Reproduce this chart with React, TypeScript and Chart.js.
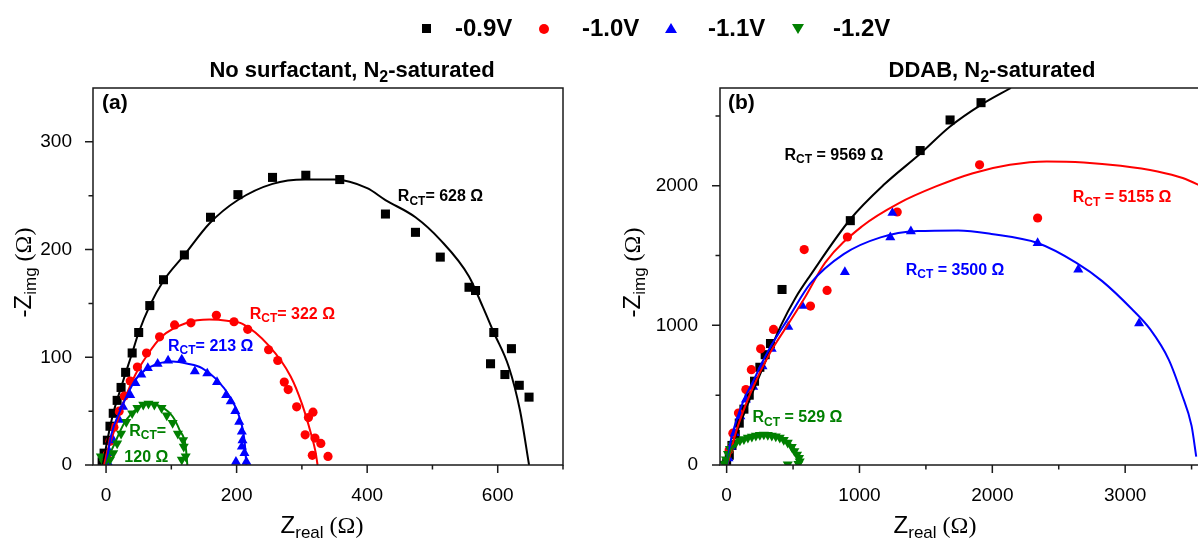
import { useEffect, useRef } from 'react';
import { Chart, registerables } from 'chart.js';

Chart.register(...registerables);

const FONT = "'Liberation Sans', Arial, Helvetica, sans-serif";
const SERIF = "'Liberation Serif', 'Times New Roman', serif";
const AXIS_COLOR = '#1a1a1a';

// ---------- series meta ----------
const seriesLabels = ['-0.9V', '-1.0V', '-1.1V', '-1.2V'];
const seriesColors = ['#000000', '#ff0000', '#0000ff', '#008000'];

// ---------- panel (a): No surfactant ----------
const aXTicks = [0, 200, 400, 600];
const aXMinor = [100, 300, 500, 700];
const aYTicks = [0, 100, 200, 300];
const aYMinor = [50, 150, 250];

const aBlackX = [-6, -3, 2, 6, 11, 17, 23, 30, 40, 50, 67, 88, 120, 160, 202, 255, 306, 358, 428, 474, 512, 556, 566, 594, 589, 621, 611, 633, 648];
const aBlackY = [3, 11, 23, 36, 48, 60, 72, 86, 104, 123, 148, 172, 195, 230, 251, 267, 269, 265, 233, 216, 193, 165, 162, 123, 94, 108, 84, 74, 63];
const aRedX = [0, 2, 6, 12, 20, 28, 37, 48, 62, 82, 105, 130, 169, 196, 217, 249, 263, 273, 279, 292, 310, 317, 305, 320, 329, 316, 340];
const aRedY = [3, 10, 22, 35, 50, 64, 78, 91, 104, 119, 130, 132, 139, 133, 126, 107, 97, 77, 70, 54, 44, 49, 28, 25, 20, 9, 8];
const aBlueX = [3, 6, 11, 20, 26, 37, 45, 54, 64, 79, 95, 116, 136, 155, 170, 184, 191, 198, 204, 208, 209, 208, 212, 199, 215];
const aBlueY = [2, 11, 23, 42, 54, 65, 76, 84, 90, 94, 97, 98, 87, 85, 77, 65, 59, 50, 40, 31, 23, 17, 11, 3, 3];
const aGreenX = [-8, -3, 6, 11, 17, 23, 31, 40, 48, 57, 65, 74, 85, 93, 102, 110, 118, 119, 122, 116];
const aGreenY = [8, 2, 5, 11, 20, 29, 40, 48, 53, 56, 57, 56, 53, 46, 39, 29, 23, 17, 8, 5];

const aBlackFitX = [-5, 2, 11, 23, 40, 50, 67, 88, 120, 158, 202, 255, 305, 350, 400, 428, 474, 512, 556, 577, 594, 617, 634, 648];
const aBlackFitY = [0, 23, 48, 72, 104, 123, 148, 171, 195, 224, 246, 261, 265, 265, 257, 246, 230, 209, 175, 147, 123, 91, 51, 0];
const aRedFitX = [-3, 3, 11, 28, 45, 62, 85, 124, 158, 185, 209, 249, 283, 300, 314, 321, 324];
const aRedFitY = [0, 15, 29, 60, 84, 101, 119, 132, 135, 134, 131, 111, 82, 57, 29, 12, 0];
const aBlueFitX = [0, 8, 22, 45, 68, 102, 125, 147, 170, 190, 204, 212, 215];
const aBlueFitY = [0, 28, 51, 79, 91, 96, 94, 90, 79, 63, 45, 23, 0];
const aGreenFitX = [0, 5, 11, 28, 51, 68, 85, 102, 113, 122, 124.5];
const aGreenFitY = [0, 9, 17, 39, 54, 57, 54, 45, 32, 17, 0];

// ---------- panel (b): DDAB ----------
const bXTicks = [0, 1000, 2000, 3000, 4000];
const bXMinor = [500, 1500, 2500, 3500];
const bYTicks = [0, 1000, 2000];
const bYMinor = [500, 1500, 2500];

const bBlackX = [0, 20, 40, 65, 95, 130, 170, 210, 250, 290, 330, 417, 931, 1457, 1682, 1915];
const bBlackY = [10, 70, 140, 220, 300, 400, 500, 600, 700, 790, 870, 1257, 1750, 2252, 2471, 2595];
const bRedX = [19, 47, 89, 145, 186, 256, 353, 584, 631, 756, 909, 1284, 1904, 2341];
const bRedY = [108, 228, 372, 540, 683, 832, 971, 1543, 1138, 1250, 1633, 1812, 2150, 1769];
const bBlueX = [14, 33, 61, 103, 145, 200, 270, 339, 464, 570, 890, 1232, 1248, 1387, 2341, 2647, 3105];
const bBlueY = [48, 132, 228, 348, 468, 559, 707, 832, 990, 1139, 1381, 1631, 1805, 1674, 1590, 1400, 1014];
const bGreenX = [-20, -5, 10, 25, 45, 70, 100, 130, 160, 190, 220, 250, 280, 310, 340, 370, 400, 430, 460, 490, 510, 530, 545, 550, 540, 460];
const bGreenY = [10, 40, 80, 115, 140, 160, 175, 185, 195, 203, 210, 215, 218, 215, 210, 205, 195, 180, 160, 130, 100, 75, 50, 25, 8, 5];

const bBlackFitX = [5, 50, 100, 200, 300, 409, 520, 631, 931, 1187, 1457, 1682, 1915, 2140];
const bBlackFitY = [0, 160, 290, 530, 760, 1000, 1200, 1360, 1760, 2010, 2229, 2424, 2579, 2700];
const bRedFitX = [5, 75, 186, 325, 464, 589, 742, 1020, 1298, 1576, 1854, 2132, 2410, 2688, 2966, 3244, 3433, 3600];
const bRedFitY = [0, 250, 530, 800, 1010, 1200, 1450, 1710, 1876, 1995, 2090, 2150, 2174, 2167, 2143, 2102, 2055, 1985];
const bBlueFitX = [5, 30, 61, 103, 145, 200, 270, 339, 464, 631, 881, 1159, 1437, 1743, 1993, 2341, 2633, 2827, 3050, 3189, 3328, 3425, 3500, 3535];
const bBlueFitY = [0, 170, 280, 400, 500, 600, 740, 860, 1050, 1300, 1510, 1630, 1675, 1680, 1655, 1590, 1448, 1317, 1117, 971, 755, 510, 280, 60];
const bGreenFitX = [0, 30, 80, 150, 220, 284, 350, 420, 480, 520, 545, 550];
const bGreenFitY = [0, 110, 160, 195, 212, 218, 212, 190, 150, 100, 40, 0];

// ---------- helpers ----------
type Seg = { t: string; sub?: boolean; serif?: boolean };
type Note = { segs: Seg[]; x: number; y: number; color: string };

const pts = (xs: number[], ys: number[]) => xs.map((x, i) => ({ x, y: ys[i] }));

function drawRich(ctx: CanvasRenderingContext2D, segs: Seg[], x: number, y: number, size: number, weight: string, color: string, align: 'left' | 'center') {
  ctx.save();
  ctx.fillStyle = color;
  ctx.textBaseline = 'alphabetic';
  ctx.textAlign = 'left';
  const fontFor = (s: Seg) => `${weight} ${s.sub ? Math.round(size * 0.72) : size}px ${s.serif ? SERIF : FONT}`;
  const widths = segs.map((s) => {
    ctx.font = fontFor(s);
    return ctx.measureText(s.t).width;
  });
  const total = widths.reduce((a, b) => a + b, 0);
  let cx = align === 'center' ? x - total / 2 : x;
  segs.forEach((s, i) => {
    ctx.font = fontFor(s);
    ctx.fillText(s.t, cx, s.sub ? y + size * 0.22 : y);
    cx += widths[i];
  });
  ctx.restore();
}

const rct = (rest: string): Seg[] => [{ t: 'R' }, { t: 'CT', sub: true }, { t: rest }];

type Deco = {
  xMajor: number[]; xMinor: number[]; yMajor: number[]; yMinor: number[];
  title: Seg[]; titleX: number; tag: string; tagX: number;
  xTitleX: number; yTitleX: number; notes: Note[];
};

function decoPlugin(d: Deco) {
  return {
    id: 'deco',
    afterDraw(chart: any) {
      const ctx: CanvasRenderingContext2D = chart.ctx;
      const a = chart.chartArea;
      const xs = chart.scales.x;
      const ys = chart.scales.y;
      ctx.save();
      ctx.strokeStyle = AXIS_COLOR;
      ctx.lineWidth = 1.5;
      ctx.strokeRect(a.left, a.top, a.right - a.left, a.bottom - a.top);
      ctx.beginPath();
      const tx = (vals: number[], len: number) => vals.forEach((v) => {
        const p = xs.getPixelForValue(v);
        ctx.moveTo(p, a.bottom); ctx.lineTo(p, a.bottom + len);
      });
      const ty = (vals: number[], len: number) => vals.forEach((v) => {
        const p = ys.getPixelForValue(v);
        ctx.moveTo(a.left, p); ctx.lineTo(a.left - len, p);
      });
      tx(d.xMajor, 8); tx(d.xMinor, 4.5); ty(d.yMajor, 8); ty(d.yMinor, 4.5);
      ctx.stroke();
      ctx.restore();

      d.notes.forEach((n) => {
        drawRich(ctx, n.segs, xs.getPixelForValue(n.x), ys.getPixelForValue(n.y) + 16 * 0.36, 16, 'bold', n.color, 'left');
      });
      drawRich(ctx, d.title, d.titleX, 77, 22, 'bold', '#000', 'center');
      drawRich(ctx, [{ t: d.tag }], d.tagX, 109, 21, 'bold', '#000', 'left');
      drawRich(ctx, [{ t: 'Z' }, { t: 'real', sub: true }, { t: ' (Ω)', serif: true }], d.xTitleX, 533, 24, 'normal', '#000', 'center');
      ctx.save();
      ctx.translate(d.yTitleX, (a.top + a.bottom) / 2 - 4);
      ctx.rotate(-Math.PI / 2);
      drawRich(ctx, [{ t: '-Z' }, { t: 'img', sub: true }, { t: ' (Ω)', serif: true }], 0, 0, 24, 'normal', '#000', 'center');
      ctx.restore();
    },
  };
}

function dataSets(sx: number[][], sy: number[][], fx: number[][], fy: number[][]) {
  const styles = ['rect', 'circle', 'triangle', 'triangle'];
  const radii = [6.4, 4.6, 5.8, 5.8];
  const rot = [0, 0, 0, 180];
  const fits = fx.map((xs, i) => ({
    data: pts(xs, fy[i]),
    showLine: true,
    borderColor: seriesColors[i],
    borderWidth: 2,
    pointRadius: 0,
    cubicInterpolationMode: 'monotone',
    fill: false,
  }));
  const marks = sx.map((xs, i) => ({
    data: pts(xs, sy[i]),
    showLine: false,
    pointStyle: styles[i],
    pointRadius: radii[i],
    rotation: rot[i],
    backgroundColor: seriesColors[i],
    borderColor: seriesColors[i],
    borderWidth: 0,
  }));
  return [...fits.reverse(), ...marks.reverse()];
}

function axis(min: number, max: number, ticks: number[], size: number, pad: number, isX: boolean) {
  return {
    type: 'linear',
    min,
    max,
    afterBuildTicks: (s: any) => { s.ticks = ticks.map((v) => ({ value: v })); },
    afterFit: (s: any) => { if (isX) s.height = size; else s.width = size; },
    ticks: {
      callback: (v: any) => String(v),
      font: { family: FONT, size: 19 },
      color: '#000',
      padding: pad,
      maxRotation: 0,
      autoSkip: false,
    },
    grid: { display: false },
    border: { display: false },
  };
}

function makeConfig(datasets: any[], xs: any, ys: any, padRight: number, deco: Deco): any {
  return {
    type: 'scatter',
    data: { datasets },
    options: {
      responsive: false,
      animation: false,
      events: [],
      layout: { padding: { top: 88, right: padRight, bottom: 0, left: 0 } },
      plugins: { legend: { display: false }, tooltip: { enabled: false }, title: { display: false } },
      scales: { x: xs, y: ys },
    },
    plugins: [decoPlugin(deco)],
  };
}

export default function App() {
  const refA = useRef<HTMLCanvasElement>(null);
  const refB = useRef<HTMLCanvasElement>(null);

  useEffect(() => {
    const cfgA = makeConfig(
      dataSets([aBlackX, aRedX, aBlueX, aGreenX], [aBlackY, aRedY, aBlueY, aGreenY],
        [aBlackFitX, aRedFitX, aBlueFitX, aGreenFitX], [aBlackFitY, aRedFitY, aBlueFitY, aGreenFitY]),
      axis(-20, 700, aXTicks, 73, 11, true),
      axis(0, 350, aYTicks, 93, 13, false),
      37,
      {
        xMajor: aXTicks, xMinor: aXMinor, yMajor: aYTicks, yMinor: aYMinor,
        title: [{ t: 'No surfactant, N' }, { t: '2', sub: true }, { t: '-saturated' }], titleX: 352,
        tag: '(a)', tagX: 102, xTitleX: 322, yTitleX: 31,
        notes: [
          { segs: rct('= 628 Ω'), x: 447, y: 250, color: seriesColors[0] },
          { segs: rct('= 322 Ω'), x: 220, y: 141, color: seriesColors[1] },
          { segs: rct('= 213 Ω'), x: 95, y: 111.5, color: seriesColors[2] },
          { segs: rct('='), x: 35.6, y: 32.5, color: seriesColors[3] },
          { segs: [{ t: '120 Ω' }], x: 28, y: 7.7, color: seriesColors[3] },
        ],
      },
    );
    const cfgB = makeConfig(
      dataSets([bBlackX, bRedX, bBlueX, bGreenX], [bBlackY, bRedY, bBlueY, bGreenY],
        [bBlackFitX, bRedFitX, bBlueFitX, bGreenFitX], [bBlackFitY, bRedFitY, bBlueFitY, bGreenFitY]),
      axis(-50, 4000, bXTicks, 73, 11, true),
      axis(0, 2700, bYTicks, 120, 14, false),
      42,
      {
        xMajor: bXTicks, xMinor: bXMinor, yMajor: bYTicks, yMinor: bYMinor,
        title: [{ t: 'DDAB, N' }, { t: '2', sub: true }, { t: '-saturated' }], titleX: 392,
        tag: '(b)', tagX: 128, xTitleX: 335, yTitleX: 40,
        notes: [
          { segs: rct(' = 9569 Ω'), x: 436, y: 2226, color: seriesColors[0] },
          { segs: rct(' = 5155 Ω'), x: 2605, y: 1924, color: seriesColors[1] },
          { segs: rct(' = 3500 Ω'), x: 1348, y: 1405, color: seriesColors[2] },
          { segs: rct(' = 529 Ω'), x: 195, y: 348, color: seriesColors[3] },
        ],
      },
    );
    const ca = new Chart(refA.current as HTMLCanvasElement, cfgA);
    const cb = new Chart(refB.current as HTMLCanvasElement, cfgB);
    return () => { ca.destroy(); cb.destroy(); };
  }, []);

  const markerCenters = [426, 544, 671, 798];
  const textLefts = [455, 582, 708, 833];
  const marker = (i: number) => {
    const c = seriesColors[i];
    const base: any = { position: 'absolute', width: 0, height: 0 };
    if (i === 0) return <div key={'m' + i} style={{ position: 'absolute', left: markerCenters[i] - 4.5, top: 24, width: 9, height: 9, background: c }} />;
    if (i === 1) return <div key={'m' + i} style={{ position: 'absolute', left: markerCenters[i] - 5, top: 23.5, width: 10, height: 10, borderRadius: '50%', background: c }} />;
    if (i === 2) return <div key={'m' + i} style={{ ...base, left: markerCenters[i] - 6, top: 23, borderLeft: '6px solid transparent', borderRight: '6px solid transparent', borderBottom: `10px solid ${c}` }} />;
    return <div key={'m' + i} style={{ ...base, left: markerCenters[i] - 6, top: 24, borderLeft: '6px solid transparent', borderRight: '6px solid transparent', borderTop: `10px solid ${c}` }} />;
  };

  return (
    <div style={{ position: 'fixed', left: 0, top: 0, width: 1198, height: 538, overflow: 'hidden', background: '#fff' }}>
      <canvas ref={refA} width={600} height={538} style={{ position: 'absolute', left: 0, top: 0 }} />
      <canvas ref={refB} width={700} height={538} style={{ position: 'absolute', left: 600, top: 0 }} />
      {seriesLabels.map((_, i) => marker(i))}
      {seriesLabels.map((lab, i) => (
        <div key={'t' + i} style={{ position: 'absolute', left: textLefts[i], top: 16, font: `bold 24px ${FONT}`, lineHeight: '24px', color: '#000', whiteSpace: 'nowrap' }}>{lab}</div>
      ))}
    </div>
  );
}
